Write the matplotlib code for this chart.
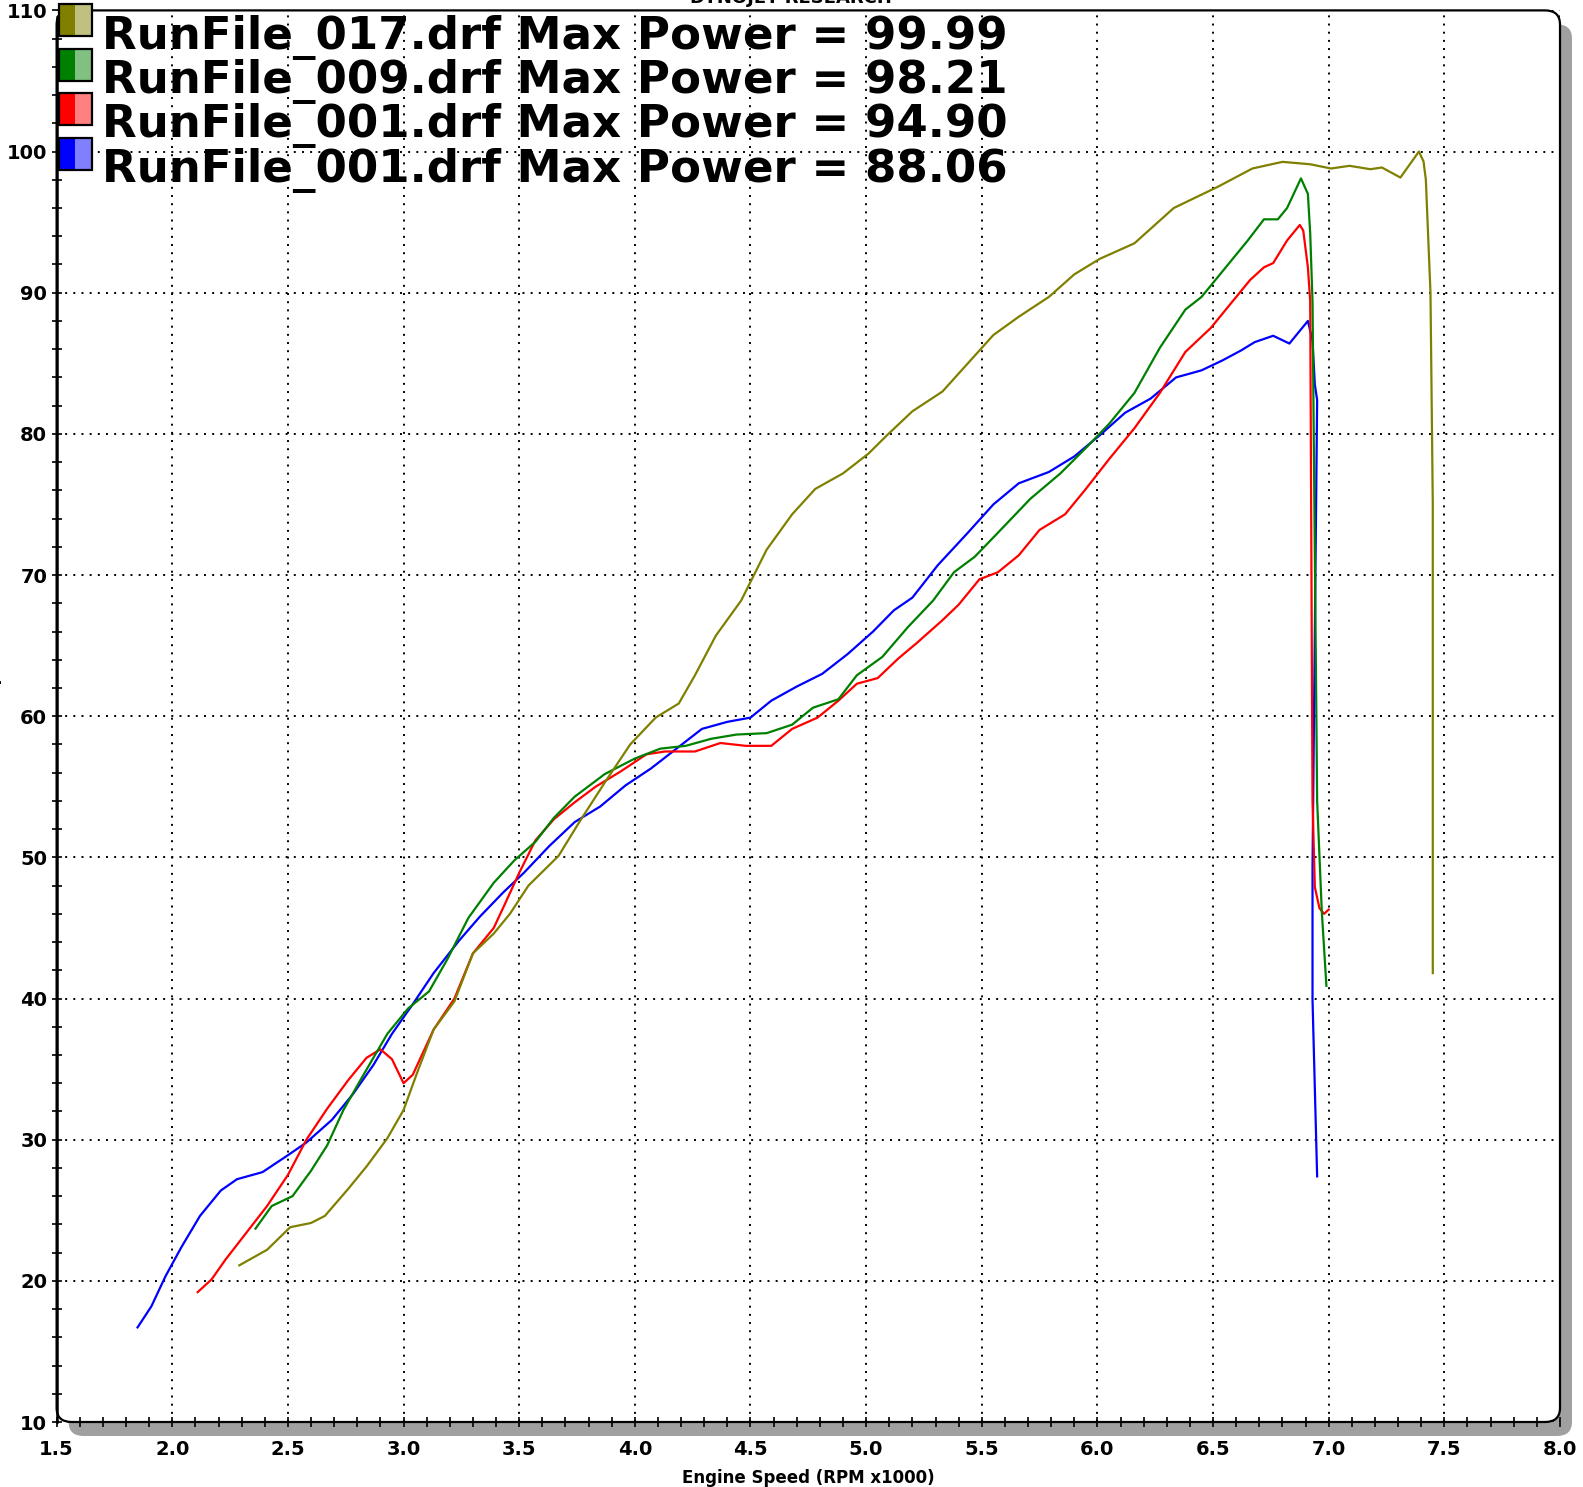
import matplotlib
matplotlib.use('Agg')
import matplotlib.pyplot as plt
from matplotlib.patches import FancyBboxPatch, Rectangle
from matplotlib.transforms import ScaledTranslation
from matplotlib.ticker import MultipleLocator, FormatStrFormatter

# run 017 (olive)
olive_rpm = [2.29, 2.41, 2.51, 2.60, 2.66, 2.76, 2.84, 2.93, 3.00, 3.06, 3.13, 3.22, 3.30, 3.39,
             3.46, 3.54, 3.67, 3.76, 3.87, 3.98, 4.09, 4.19, 4.26, 4.35, 4.46, 4.57, 4.68, 4.78,
             4.90, 5.01, 5.09, 5.20, 5.33, 5.44, 5.55, 5.66, 5.79, 5.90, 6.01, 6.16, 6.33, 6.52,
             6.67, 6.80, 6.92, 7.01, 7.09, 7.18, 7.23, 7.31, 7.39, 7.41, 7.42, 7.44, 7.45, 7.45]
olive_hp = [21.1, 22.2, 23.8, 24.1, 24.6, 26.5, 28.1, 30.1, 32.1, 34.8, 37.8, 39.8, 43.2, 44.6,
            46.0, 48.0, 50.1, 52.5, 55.3, 58.0, 59.9, 60.9, 62.9, 65.7, 68.2, 71.8, 74.3, 76.1,
            77.2, 78.6, 79.9, 81.6, 83.0, 85.0, 87.0, 88.3, 89.7, 91.3, 92.4, 93.5, 96.0, 97.5,
            98.8, 99.27, 99.1, 98.8, 98.99, 98.75, 98.87, 98.16, 100.0, 99.3, 98.0, 90.0, 75.0, 41.8]

# run 009 (green)
green_rpm = [2.36, 2.43, 2.52, 2.60, 2.67, 2.74, 2.82, 2.93, 3.02, 3.11, 3.19, 3.28, 3.39, 3.48,
             3.57, 3.65, 3.74, 3.87, 4.00, 4.11, 4.22, 4.33, 4.44, 4.57, 4.68, 4.77, 4.88, 4.96,
             5.07, 5.18, 5.29, 5.38, 5.47, 5.57, 5.71, 5.84, 5.95, 6.05, 6.16, 6.27, 6.38, 6.45,
             6.59, 6.65, 6.72, 6.78, 6.82, 6.88, 6.91, 6.92, 6.93, 6.95, 6.97, 6.99]
green_hp = [23.7, 25.3, 26.0, 27.8, 29.6, 32.1, 34.4, 37.5, 39.3, 40.5, 42.8, 45.7, 48.2, 49.8,
            51.1, 52.8, 54.3, 55.9, 57.0, 57.7, 57.9, 58.4, 58.7, 58.8, 59.4, 60.6, 61.2, 62.9,
            64.2, 66.3, 68.2, 70.2, 71.3, 73.0, 75.4, 77.2, 79.0, 80.7, 82.9, 86.1, 88.8, 89.7,
            92.5, 93.7, 95.2, 95.2, 96.0, 98.1, 97.0, 94.2, 89.4, 54.0, 46.2, 40.9]

# run 001 (red)
red_rpm = [2.11, 2.17, 2.23, 2.32, 2.41, 2.50, 2.58, 2.67, 2.76, 2.84, 2.90, 2.95, 3.00, 3.04,
           3.13, 3.22, 3.30, 3.39, 3.43, 3.50, 3.57, 3.65, 3.74, 3.83, 3.94, 4.05, 4.13, 4.26,
           4.37, 4.48, 4.59, 4.68, 4.79, 4.88, 4.96, 5.05, 5.14, 5.22, 5.33, 5.40, 5.49, 5.57,
           5.66, 5.75, 5.86, 5.95, 6.05, 6.16, 6.27, 6.38, 6.49, 6.60, 6.66, 6.72, 6.76, 6.82,
           6.875, 6.89, 6.91, 6.92, 6.93, 6.94, 6.96, 6.98, 7.00]
red_hp = [19.2, 20.1, 21.5, 23.4, 25.3, 27.5, 30.0, 32.2, 34.2, 35.8, 36.4, 35.7, 34.0, 34.6,
          37.8, 40.0, 43.2, 45.0, 46.4, 48.9, 51.2, 52.7, 53.9, 55.0, 56.1, 57.3, 57.5, 57.5,
          58.1, 57.9, 57.9, 59.1, 59.9, 61.1, 62.3, 62.7, 64.1, 65.2, 66.8, 67.9, 69.7, 70.2,
          71.4, 73.2, 74.3, 76.1, 78.2, 80.4, 82.9, 85.8, 87.5, 89.7, 90.9, 91.8, 92.1, 93.7,
          94.8, 94.4, 91.8, 89.4, 54.0, 47.9, 46.4, 46.0, 46.3]

# run 001 (blue)
blue_rpm = [1.85, 1.91, 1.97, 2.04, 2.12, 2.21, 2.28, 2.39, 2.50, 2.58, 2.69, 2.78, 2.87, 2.95,
            3.04, 3.13, 3.24, 3.33, 3.43, 3.52, 3.63, 3.74, 3.85, 3.96, 4.07, 4.18, 4.29, 4.40,
            4.50, 4.59, 4.70, 4.81, 4.92, 5.03, 5.12, 5.20, 5.31, 5.44, 5.55, 5.66, 5.79, 5.90,
            6.01, 6.12, 6.23, 6.34, 6.45, 6.54, 6.62, 6.68, 6.76, 6.83, 6.91, 6.93, 6.94, 6.95,
            6.93, 6.93, 6.95]
blue_hp = [16.7, 18.2, 20.3, 22.4, 24.6, 26.4, 27.2, 27.7, 28.9, 29.8, 31.4, 33.2, 35.3, 37.5,
           39.6, 41.8, 44.1, 45.8, 47.5, 48.9, 50.8, 52.5, 53.6, 55.1, 56.3, 57.7, 59.1, 59.6,
           59.9, 61.1, 62.1, 63.0, 64.4, 66.0, 67.5, 68.4, 70.7, 73.0, 75.0, 76.5, 77.3, 78.4,
           79.9, 81.5, 82.5, 84.0, 84.5, 85.2, 85.9, 86.5, 86.95, 86.4, 88.0, 86.6, 83.5, 82.4,
           49.3, 39.9, 27.4]

run_names = ['RunFile_017.drf', 'RunFile_009.drf', 'RunFile_001.drf', 'RunFile_001.drf']
max_power = ['99.99', '98.21', '94.90', '88.06']
dark_colors = ['#808000', '#008000', '#ff0000', '#0000ff']
light_colors = ['#c0c080', '#80c080', '#ff8080', '#8080ff']

W, H = 1583, 1487


def fx(px):
    return px / W


def fy(py):
    return 1 - py / H


def main():
    fig = plt.figure(figsize=(W / 100, H / 100), dpi=100)
    fig.patch.set_facecolor('white')

    left, right, top, bottom = 56.6, 1560.0, 10.4, 1422.0
    ax = fig.add_axes([fx(left), fy(bottom), (right - left) / W, (bottom - top) / H])
    ax.patch.set_visible(False)
    for s in ax.spines.values():
        s.set_visible(False)

    # rounded frame and its grey drop shadow
    shadow = FancyBboxPatch((0, 0), 1, 1, boxstyle='round,pad=0,rounding_size=0.01',
                            transform=ax.transAxes + ScaledTranslation(0.12, -0.14, fig.dpi_scale_trans),
                            fc='#a0a0a0', ec='none', clip_on=False, zorder=-3)
    frame = FancyBboxPatch((0, 0), 1, 1, boxstyle='round,pad=0,rounding_size=0.01',
                           transform=ax.transAxes, fc='white', ec='black', lw=1.6,
                           clip_on=False, zorder=-2)
    ax.add_patch(shadow)
    ax.add_patch(frame)

    series = [(olive_rpm, olive_hp), (green_rpm, green_hp), (red_rpm, red_hp), (blue_rpm, blue_hp)]
    for (rpm, hp), c in list(zip(series, dark_colors))[::-1]:
        ax.plot(rpm, hp, color=c, lw=1.6, solid_joinstyle='round', zorder=2)

    ax.set_xlim(1.5, 8.0)
    ax.set_ylim(10, 110)
    ax.xaxis.set_major_locator(MultipleLocator(0.5))
    ax.xaxis.set_minor_locator(MultipleLocator(0.1))
    ax.yaxis.set_major_locator(MultipleLocator(10))
    ax.yaxis.set_minor_locator(MultipleLocator(2))
    ax.xaxis.set_major_formatter(FormatStrFormatter('%.1f'))

    ax.set_axisbelow(True)
    ax.grid(True, which='major', color='black', linestyle=(0, (1, 3.2)), linewidth=1.4)
    ax.tick_params(which='both', direction='inout', length=7.5, width=1.2, color='black',
                   top=False, right=False)
    ax.tick_params(axis='x', which='major', pad=9, labelsize=14)
    ax.tick_params(axis='y', which='major', pad=3, labelsize=14)
    for lab in ax.get_xticklabels() + ax.get_yticklabels():
        lab.set_fontweight('bold')

    # left axis line, a bit heavier than the frame
    ax.plot([0, 0], [0, 0.995], transform=ax.transAxes, color='black', lw=1.8, clip_on=False, zorder=3)

    fig.text(fx(808), fy(1478), 'Engine Speed (RPM x1000)', ha='center', va='center',
             fontsize=12, fontweight='bold')
    fig.text(fx(2), fy(716), 'Power (hp)', rotation=90, ha='right', va='center',
             fontsize=12, fontweight='bold')
    fig.text(fx(791), fy(2.7), 'DYNOJET RESEARCH', ha='center', va='baseline',
             fontsize=13, fontweight='bold')

    # legend: two-tone swatches + big labels
    box_tops = [4, 49, 93, 138]
    baselines = [48.5, 93.0, 137.5, 182.0]
    for i in range(4):
        y0 = box_tops[i] + 32
        fig.add_artist(Rectangle((fx(59), fy(y0)), 16 / W, 32 / H, transform=fig.transFigure,
                                 fc=dark_colors[i], ec='none', zorder=5))
        fig.add_artist(Rectangle((fx(75), fy(y0)), 16.5 / W, 32 / H, transform=fig.transFigure,
                                 fc=light_colors[i], ec='none', zorder=5))
        fig.add_artist(Rectangle((fx(59), fy(y0)), 32.5 / W, 32 / H, transform=fig.transFigure,
                                 fc='none', ec='black', lw=1.6, zorder=6))
        fig.text(fx(102), fy(baselines[i]), f'{run_names[i]} Max Power = {max_power[i]}',
                 ha='left', va='baseline', fontsize=32.5, fontweight='bold', zorder=7)

    fig.savefig('out.png', dpi=100)


if __name__ == '__main__':
    main()
